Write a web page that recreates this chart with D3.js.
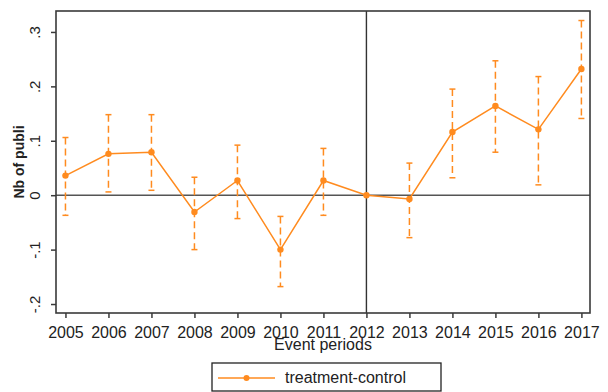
<!DOCTYPE html>
<html>
<head>
<meta charset="utf-8">
<script src="https://cdn.jsdelivr.net/npm/d3@7"></script>
<style>
  html, body { margin: 0; padding: 0; background: #fff; }
  svg { display: block; font-family: "Liberation Sans", Arial, sans-serif; }
</style>
</head>
<body>
<svg id="chart" width="608" height="392"></svg>
<script>
// Event-study estimates (treatment minus control) with 95% confidence bounds
const years = [2005, 2006, 2007, 2008, 2009, 2010, 2011, 2012, 2013, 2014, 2015, 2016, 2017];
const estimate = [0.036, 0.076, 0.079, -0.031, 0.027, -0.100, 0.027, 0.000, -0.007, 0.116, 0.164, 0.121, 0.232];
const upper = [0.106, 0.148, 0.148, 0.033, 0.092, -0.039, 0.086, null, 0.059, 0.195, 0.247, 0.218, 0.321];
const lower = [-0.037, 0.006, 0.009, -0.100, -0.043, -0.168, -0.037, null, -0.078, 0.032, 0.079, 0.019, 0.141];
const yTicks = [-0.2, -0.1, 0, 0.1, 0.2, 0.3];
const yTickLabels = ["-.2", "-.1", "0", ".1", ".2", ".3"];
const referenceYear = 2012;
const seriesName = "treatment-control";
const xTitle = "Event periods";
const yTitle = "Nb of publi";

const orange = "#ff8b1f";
const frameColor = "#3a3a3a";

const svg = d3.select("#chart");
const plot = { left: 56, top: 11, right: 590, bottom: 313 };

const x = d3.scaleLinear()
  .domain([2004.78, 2017.2])
  .range([plot.left, plot.right]);
const y = d3.scaleLinear()
  .domain([-0.2165, 0.3385])
  .range([plot.bottom, plot.top]);

// Axes
const xAxis = d3.axisBottom(x)
  .tickValues(years)
  .tickFormat(d3.format("d"))
  .tickSize(5)
  .tickSizeOuter(0);
const gx = svg.append("g")
  .attr("transform", `translate(0,${plot.bottom})`)
  .call(xAxis);
gx.select(".domain").remove();
gx.selectAll(".tick line").attr("stroke", frameColor).attr("stroke-width", 1.5);
gx.selectAll(".tick text")
  .attr("fill", "#222")
  .attr("font-size", 16)
  .attr("font-family", "Liberation Sans, Arial, sans-serif")
  .attr("dy", 0)
  .attr("y", 25);

const yAxis = d3.axisLeft(y)
  .tickValues(yTicks)
  .tickFormat((d, i) => yTickLabels[i])
  .tickSize(5)
  .tickSizeOuter(0);
const gy = svg.append("g")
  .attr("transform", `translate(${plot.left},0)`)
  .call(yAxis);
gy.select(".domain").remove();
gy.selectAll(".tick line").attr("stroke", frameColor).attr("stroke-width", 1.5);
gy.selectAll(".tick text")
  .attr("fill", "#222")
  .attr("font-size", 15)
  .attr("font-family", "Liberation Sans, Arial, sans-serif")
  .attr("x", 0)
  .attr("dy", 0)
  .attr("text-anchor", "middle")
  .attr("transform", "translate(-21,0) rotate(-90)")
  .attr("y", 5);

// Zero line and reference period line
svg.append("line")
  .attr("x1", plot.left).attr("x2", plot.right)
  .attr("y1", y(0)).attr("y2", y(0))
  .attr("stroke", "#555").attr("stroke-width", 1.6);
svg.append("line")
  .attr("x1", x(referenceYear)).attr("x2", x(referenceYear))
  .attr("y1", plot.top).attr("y2", plot.bottom)
  .attr("stroke", "#333").attr("stroke-width", 1.4);

// Frame
svg.append("rect")
  .attr("x", plot.left).attr("y", plot.top)
  .attr("width", plot.right - plot.left)
  .attr("height", plot.bottom - plot.top)
  .attr("fill", "none")
  .attr("stroke", frameColor)
  .attr("stroke-width", 1.6);

// Confidence intervals
const ci = years.map((yr, i) => ({ yr, lo: lower[i], hi: upper[i] }))
  .filter(d => d.lo !== null && d.hi !== null);
const capHalf = 3;
const gci = svg.append("g").attr("stroke", orange).attr("stroke-width", 1.5);
gci.selectAll("line.bar").data(ci).join("line")
  .attr("class", "bar")
  .attr("x1", d => x(d.yr)).attr("x2", d => x(d.yr))
  .attr("y1", d => y(d.hi)).attr("y2", d => y(d.lo))
  .attr("stroke-dasharray", "7,4");
gci.selectAll("line.capTop").data(ci).join("line")
  .attr("class", "capTop")
  .attr("x1", d => x(d.yr) - capHalf).attr("x2", d => x(d.yr) + capHalf)
  .attr("y1", d => y(d.hi)).attr("y2", d => y(d.hi));
gci.selectAll("line.capBot").data(ci).join("line")
  .attr("class", "capBot")
  .attr("x1", d => x(d.yr) - capHalf).attr("x2", d => x(d.yr) + capHalf)
  .attr("y1", d => y(d.lo)).attr("y2", d => y(d.lo));

// Estimate line and markers
const pts = years.map((yr, i) => ({ yr, v: estimate[i] }));
svg.append("path")
  .datum(pts)
  .attr("fill", "none")
  .attr("stroke", orange)
  .attr("stroke-width", 1.5)
  .attr("d", d3.line().x(d => x(d.yr)).y(d => y(d.v)));
svg.append("g").selectAll("circle").data(pts).join("circle")
  .attr("cx", d => x(d.yr)).attr("cy", d => y(d.v))
  .attr("r", 3.2)
  .attr("fill", orange);

// Axis titles
svg.append("text")
  .attr("x", (plot.left + plot.right) / 2)
  .attr("y", 350)
  .attr("text-anchor", "middle")
  .attr("font-size", 16)
  .attr("fill", "#222")
  .text(xTitle);
svg.append("text")
  .attr("transform", `translate(24,${(plot.top + plot.bottom) / 2}) rotate(-90)`)
  .attr("text-anchor", "middle")
  .attr("font-size", 14)
  .attr("font-weight", "bold")
  .attr("fill", "#222")
  .text(yTitle);

// Legend
const lg = svg.append("g");
lg.append("rect")
  .attr("x", 212).attr("y", 363)
  .attr("width", 229).attr("height", 28)
  .attr("fill", "#fff")
  .attr("stroke", "#222")
  .attr("stroke-width", 1.3);
lg.append("line")
  .attr("x1", 218).attr("x2", 275)
  .attr("y1", 378).attr("y2", 378)
  .attr("stroke", orange).attr("stroke-width", 1.5);
lg.append("circle")
  .attr("cx", 246.5).attr("cy", 378).attr("r", 3)
  .attr("fill", orange);
lg.append("text")
  .attr("x", 285).attr("y", 383)
  .attr("font-size", 16)
  .attr("fill", "#222")
  .text(seriesName);
</script>
</body>
</html>
